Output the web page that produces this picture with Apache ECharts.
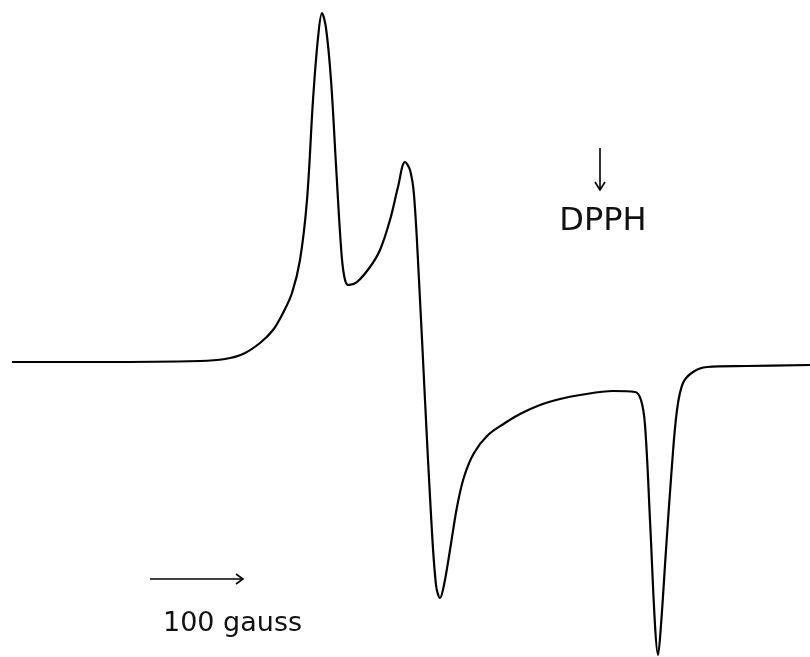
<!DOCTYPE html>
<html>
<head>
<meta charset="utf-8">
<script src="https://cdn.jsdelivr.net/npm/echarts@6/dist/echarts.min.js"></script>
<style>html,body{margin:0;padding:0;background:#fff}#c{width:810px;height:657px}</style>
</head>
<body>
<div id="c"></div>
<script>
// Field position (arbitrary units, left to right) and signal (arbitrary units, downward positive)
const fieldPos = [12, 100, 200, 225, 243, 260, 273, 283, 292, 300, 307, 313, 318, 322, 326, 331, 336, 341, 344, 348, 357, 370, 380, 390, 398, 405, 410, 414, 419, 425, 431, 436, 440, 444, 450, 457, 464, 474, 488, 505, 520, 540, 560, 580, 613, 635, 641, 645, 650, 655, 658, 661, 666, 672, 677, 683, 693, 707, 747, 810];
const signal   = [362, 362, 361, 359, 354, 343, 330, 313, 293, 260, 200, 100, 38, 13, 28, 80, 165, 247, 275, 285, 282, 267, 250, 220, 187, 162, 170, 195, 280, 400, 515, 585, 598, 585, 550, 507, 477, 453, 435, 423, 414, 405, 399, 395, 391, 392, 400, 425, 520, 625, 655, 625, 550, 465, 410, 383, 372, 367, 366, 365];
const labelDPPH = "DPPH";
const labelScale = "100 gauss";

const chart = echarts.init(document.getElementById('c'));
chart.setOption({
  backgroundColor: '#fff',
  animation: false,
  grid: {left: 0, right: 0, top: 0, bottom: 0},
  xAxis: {type: 'value', min: 0, max: 810, show: false},
  yAxis: {type: 'value', min: 0, max: 657, inverse: true, show: false},
  series: [{
    type: 'line',
    data: fieldPos.map((x, i) => [x, signal[i]]),
    showSymbol: false,
    smooth: 0.35,
    lineStyle: {color: '#000', width: 2.2}
  }],
  graphic: [
    {type: 'polyline', shape: {points: [[600, 148], [600, 190]]}, style: {stroke: '#000', lineWidth: 1.6, fill: null}},
    {type: 'polyline', shape: {points: [[595, 182], [600, 190], [605, 182]]}, style: {stroke: '#000', lineWidth: 1.6, fill: null}},
    {type: 'text', x: 603, y: 222, style: {text: labelDPPH, font: '32px "DejaVu Sans"', fill: '#111', align: 'center', verticalAlign: 'middle'}},
    {type: 'polyline', shape: {points: [[150, 579], [243, 579]]}, style: {stroke: '#000', lineWidth: 1.6, fill: null}},
    {type: 'polyline', shape: {points: [[236, 574], [243, 579], [236, 584]]}, style: {stroke: '#000', lineWidth: 1.6, fill: null}},
    {type: 'text', x: 163, y: 624, style: {text: labelScale, font: '27px "DejaVu Sans"', fill: '#111', align: 'left', verticalAlign: 'middle'}}
  ]
});
</script>
</body>
</html>
